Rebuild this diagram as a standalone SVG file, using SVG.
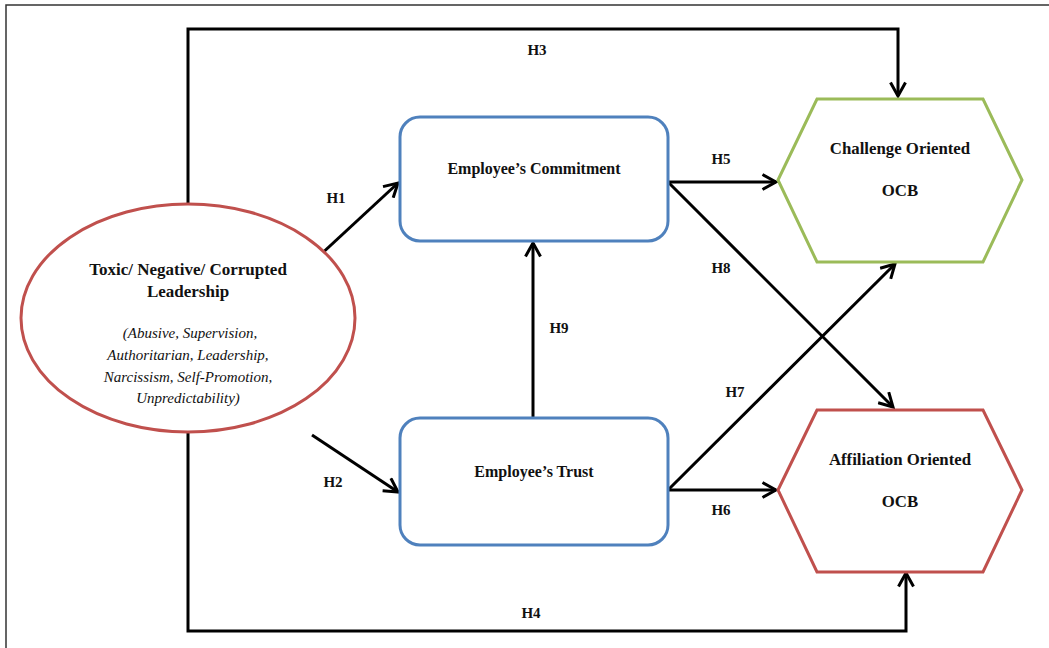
<svg xmlns="http://www.w3.org/2000/svg" width="1049" height="648" viewBox="0 0 1049 648">
<defs>
<style>
text{font-family:'Liberation Serif','Tinos','DejaVu Serif',serif;fill:#111;text-anchor:middle}
.t{font-weight:bold}
.i{font-style:italic;font-size:15px}
.c{fill:none;stroke:#000;stroke-width:3;stroke-linejoin:miter}
.h{font-weight:bold;font-size:15px}
</style>
<marker id="ah" viewBox="0 0 12 12" refX="10" refY="6" markerWidth="6" markerHeight="6" markerUnits="strokeWidth" orient="auto">
<path d="M1,1 L10,6 L1,11" fill="none" stroke="#000" stroke-width="2"/>
</marker>
</defs>
<rect width="1049" height="648" fill="#fff"/>
<path d="M6,648 V5 H1049" fill="none" stroke="#333" stroke-width="1.5"/>
<g id="connectors">
<path class="c" d="M188,204 V29 H898 V96" marker-end="url(#ah)"/>
<path class="c" d="M188,432 V631 H906 V573" marker-end="url(#ah)"/>
<path class="c" d="M318,257 L398,183" marker-end="url(#ah)"/>
<path class="c" d="M312,435 L398,492" marker-end="url(#ah)"/>
<path class="c" d="M533,418 V243" marker-end="url(#ah)"/>
<path class="c" d="M668,182 H776" marker-end="url(#ah)"/>
<path class="c" d="M668,490 H776" marker-end="url(#ah)"/>
<path class="c" d="M668,182 L893,407" marker-end="url(#ah)"/>
<path class="c" d="M668,490 L895,264" marker-end="url(#ah)"/>
<text class="h" x="537" y="55">H3</text>
<text class="h" x="336" y="203">H1</text>
<text class="h" x="333" y="487">H2</text>
<text class="h" x="721" y="164">H5</text>
<text class="h" x="721" y="273">H8</text>
<text class="h" x="559" y="333">H9</text>
<text class="h" x="735" y="397">H7</text>
<text class="h" x="721" y="515">H6</text>
<text class="h" x="531" y="618">H4</text>
</g>
<g id="leadership">
<ellipse cx="188" cy="318" rx="167" ry="114" fill="#fff" stroke="#c0504d" stroke-width="3"/>
<text class="t" x="188" y="275" font-size="17">Toxic/ Negative/ Corrupted</text>
<text class="t" x="188" y="297" font-size="17">Leadership</text>
<text class="i" x="190" y="338">(Abusive, Supervision,</text>
<text class="i" x="188" y="360">Authoritarian, Leadership,</text>
<text class="i" x="188" y="382">Narcissism, Self-Promotion,</text>
<text class="i" x="188" y="403">Unpredictability)</text>
</g>
<g id="commitment">
<rect x="400" y="117" width="268" height="124" rx="20" fill="#fff" stroke="#4f81bd" stroke-width="3"/>
<text class="t" x="534" y="174" font-size="16">Employee’s Commitment</text>
</g>
<g id="trust">
<rect x="400" y="418" width="268" height="127" rx="20" fill="#fff" stroke="#4f81bd" stroke-width="3"/>
<text class="t" x="534" y="477" font-size="16">Employee’s Trust</text>
</g>
<g id="challenge">
<polygon points="778,180 817,99 983,99 1022,180 983,262 817,262" fill="#fff" stroke="#9bbb59" stroke-width="3"/>
<text class="t" x="900" y="154" font-size="16.8">Challenge Oriented</text>
<text class="t" x="900" y="196" font-size="16.8">OCB</text>
</g>
<g id="affiliation">
<polygon points="778,490 817,410 983,410 1022,490 983,572 817,572" fill="#fff" stroke="#c0504d" stroke-width="3"/>
<text class="t" x="900" y="465" font-size="16.8">Affiliation Oriented</text>
<text class="t" x="900" y="507" font-size="16.8">OCB</text>
</g>
</svg>
